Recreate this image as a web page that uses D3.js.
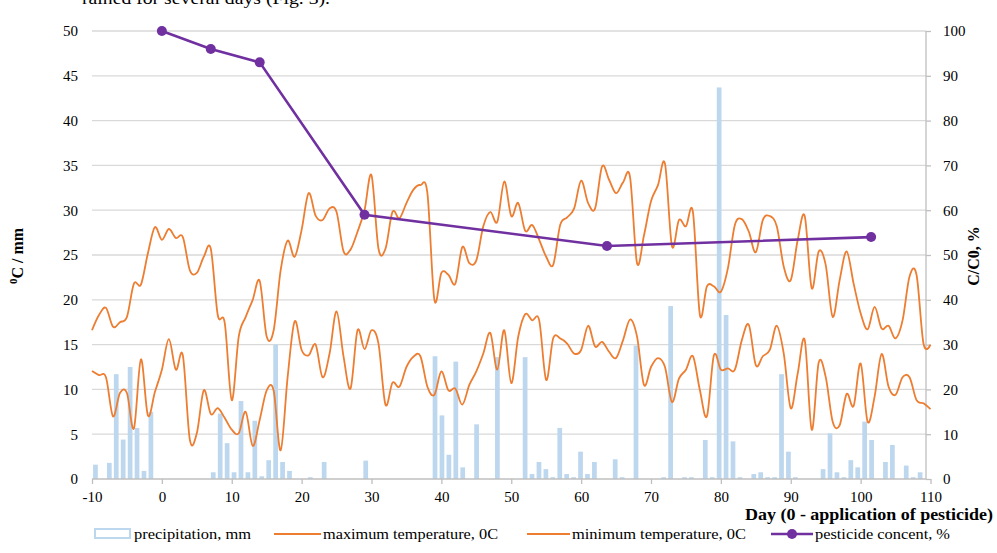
<!DOCTYPE html>
<html>
<head>
<meta charset="utf-8">
<script src="https://cdn.jsdelivr.net/npm/d3@7"></script>
<style>
  body { margin: 0; background: #fff; }
  svg { display: block; font-family: "Liberation Serif", "Times New Roman", serif; }
</style>
</head>
<body>
<svg id="chart" width="997" height="553"></svg>
<script>
// day -10 .. 110, one value per day
var firstDay = -10;
var tMax = [16.6, 18.3, 19.1, 17.0, 17.5, 18.1, 21.8, 21.7, 25.2, 28.1,
    26.7, 27.9, 26.9, 27.0, 23.3, 23.0, 24.8, 25.7, 18.3, 17.4,
    8.8, 15.9, 18.1, 20.0, 22.1, 15.9, 16.6, 23.3, 26.6, 24.8,
    27.8, 31.9, 29.4, 28.9, 30.2, 29.8, 25.4, 25.6, 27.6, 30.0,
    33.9, 25.7, 25.7, 29.8, 29.1, 30.8, 32.3, 32.8, 31.9, 20.0,
    23.0, 22.8, 21.8, 25.9, 24.1, 24.4, 28.2, 29.8, 28.7, 33.2,
    29.35, 30.8, 27.7, 28.35, 26.7, 24.8, 23.9, 28.35, 29.2, 30.2,
    33.3, 30.8, 30.2, 34.9, 33.4, 31.9, 33.1, 33.7, 24.1, 27.2,
    31.0, 32.8, 35.2, 26.0, 28.9, 28.2, 29.8, 18.3, 21.5, 21.5,
    20.9, 23.5, 28.35, 29.0, 27.6, 25.3, 28.9, 29.35, 28.2, 23.7,
    22.2, 26.7, 29.35, 21.3, 25.4, 23.9, 18.1, 22.2, 25.4, 21.8,
    18.5, 16.7, 19.2, 16.8, 17.1, 15.7, 17.7, 22.6, 22.8, 15.1,
    15.0];
var tMin = [12.05, 11.6, 11.35, 7.0, 9.6, 9.6, 5.65, 13.35, 7.1, 9.7,
    12.2, 15.6, 12.2, 13.8, 4.4, 5.1, 9.9, 7.25, 7.9, 6.8,
    5.5, 5.1, 7.5, 3.7, 6.6, 9.9, 9.85, 3.2, 11.4, 17.6,
    14.4, 13.8, 15.0, 11.35, 14.0, 18.7, 13.65, 10.1, 16.6, 14.5,
    16.6, 15.1, 8.3, 10.75, 10.3, 12.5, 13.65, 13.7, 10.3, 9.4,
    12.0, 9.9, 10.1, 8.3, 10.5, 12.0, 14.0, 16.3, 12.2, 16.6,
    10.7, 15.9, 18.4, 17.7, 17.7, 11.05, 15.7, 15.7, 15.1, 14.0,
    14.4, 17.1, 14.8, 15.3, 14.2, 13.5, 15.5, 17.8, 15.9, 10.5,
    12.5, 13.5, 12.5, 8.6, 11.2, 12.2, 13.7, 9.9, 7.0, 13.8,
    12.2, 12.35, 12.2, 15.5, 17.2, 12.7, 13.7, 14.4, 17.1, 14.0,
    7.9, 11.8, 15.5, 5.5, 13.0, 11.4, 6.4, 6.0, 9.5, 8.15,
    12.9, 6.4, 9.2, 13.95, 10.3, 9.4, 11.35, 11.35, 8.8, 8.45,
    7.8];

// precipitation, days with rain only
var rainDays = [-10, -8, -7, -6, -5, -4, -3, -2, 7, 8, 9, 10, 11, 12, 13, 14, 15, 16, 17, 18,
    21, 23, 29, 39, 40, 41, 42, 43, 45, 48, 52, 53, 54, 55, 56, 57, 58, 59, 60, 61, 62,
    65, 66, 68, 72, 73, 75, 76, 78, 79, 80, 81, 82, 83, 85, 86, 87, 88, 89, 90, 91,
    95, 96, 97, 98, 99, 100, 101, 102, 104, 105, 107, 108, 109];
var rainMm = [1.6, 1.8, 11.7, 4.4, 12.5, 5.7, 0.9, 7.5, 0.75, 7.3, 4.0, 0.75, 8.7, 0.75, 6.5, 0.3, 2.1, 15.0, 1.9, 0.9,
    0.2, 1.9, 2.05, 13.7, 7.1, 2.7, 13.1, 1.3, 6.1, 13.6, 13.6, 0.55, 1.9, 1.1, 0.2, 5.7, 0.55, 0.2, 3.05, 0.55, 1.9,
    2.2, 0.2, 14.9, 0.2, 19.3, 0.2, 0.2, 4.35, 0.2, 43.7, 18.3, 4.2, 0.2, 0.55, 0.75, 0.2, 0.2, 11.7, 3.05, 0.2,
    1.1, 5.1, 0.75, 0.2, 2.1, 1.3, 6.4, 4.35, 1.9, 3.8, 1.5, 0.2, 0.75];

// pesticide remaining, % of C0
var pestDays = [0, 7, 14, 29, 63.7, 101.5];
var pestPct = [100, 96, 93, 59, 52, 54];

var xTicks = [-10, 0, 10, 20, 30, 40, 50, 60, 70, 80, 90, 100, 110];
var leftTicks = [0, 5, 10, 15, 20, 25, 30, 35, 40, 45, 50];
var rightTicks = [0, 10, 20, 30, 40, 50, 60, 70, 80, 90, 100];

var svg = d3.select("#chart");
var x0 = 92, x1 = 930.5, yTop = 31, yBot = 479, rightAxisX = 926;

var x = d3.scaleLinear().domain([-10, 110]).range([x0, x1]);
var cat = d3.scaleBand().domain(d3.range(-10, 111)).range([x0, x1]).paddingInner(0.32).paddingOuter(0.16);
var yL = d3.scaleLinear().domain([0, 50]).range([yBot, yTop]);
var yR = d3.scaleLinear().domain([0, 100]).range([yBot, yTop]);

// document text cut off above the chart
svg.append("text")
    .attr("x", 82).attr("y", 4)
    .attr("textLength", 248).attr("lengthAdjust", "spacingAndGlyphs")
    .style("font-size", "17px")
    .text("rained for several days (Fig. 3).");

// gridlines
svg.append("g")
    .selectAll("line")
    .data(leftTicks.slice(1))
    .join("line")
    .attr("x1", x0).attr("x2", rightAxisX)
    .attr("y1", d => yL(d)).attr("y2", d => yL(d))
    .attr("stroke", "#d9d9d9").attr("stroke-width", 1.3);

// bars
svg.append("g")
    .selectAll("rect")
    .data(rainDays.map((d, i) => ({day: d, v: rainMm[i]})))
    .join("rect")
    .attr("x", d => cat(d.day))
    .attr("width", cat.bandwidth())
    .attr("y", d => yL(d.v))
    .attr("height", d => yBot - yL(d.v))
    .attr("fill", "#bdd7ee");

// axes lines
svg.append("line").attr("x1", x0).attr("x2", rightAxisX).attr("y1", yBot).attr("y2", yBot)
    .attr("stroke", "#bfbfbf").attr("stroke-width", 1.3);
svg.append("line").attr("x1", rightAxisX).attr("x2", rightAxisX).attr("y1", yTop).attr("y2", yBot)
    .attr("stroke", "#bfbfbf").attr("stroke-width", 1.3);

function styleAxis(g) {
    g.attr("font-family", null).attr("font-size", null);
    g.select(".domain").remove();
    g.selectAll(".tick line").attr("stroke", "#bfbfbf").attr("stroke-width", 1.3);
    g.selectAll("text").style("font-size", "15px").attr("fill", "#000");
}

var fmt = d => String(d);

svg.append("g").attr("transform", `translate(0,${yBot})`)
    .call(d3.axisBottom(x).tickValues(xTicks).tickFormat(fmt).tickSize(5).tickPadding(7))
    .call(styleAxis);

svg.append("g").attr("transform", `translate(${x0},0)`)
    .call(d3.axisLeft(yL).tickValues(leftTicks).tickFormat(fmt).tickSize(0).tickPadding(14))
    .call(styleAxis);

svg.append("g").attr("transform", `translate(${rightAxisX},0)`)
    .call(d3.axisRight(yR).tickValues(rightTicks).tickFormat(fmt).tickSize(5).tickPadding(12))
    .call(styleAxis);

// temperature lines
var tLine = d3.line()
    .x((d, i) => x(firstDay + i))
    .y(d => yL(d))
    .curve(d3.curveCardinal.tension(0));

svg.append("path").datum(tMax).attr("d", tLine)
    .attr("fill", "none").attr("stroke", "#ed7d31").attr("stroke-width", 1.8);
svg.append("path").datum(tMin).attr("d", tLine)
    .attr("fill", "none").attr("stroke", "#ed7d31").attr("stroke-width", 1.8);

// pesticide
var pest = pestDays.map((d, i) => ({day: d, v: pestPct[i]}));
svg.append("path").datum(pest)
    .attr("d", d3.line().x(d => x(d.day)).y(d => yR(d.v)))
    .attr("fill", "none").attr("stroke", "#7030a0").attr("stroke-width", 2.6);
svg.append("g").selectAll("circle").data(pest).join("circle")
    .attr("cx", d => x(d.day)).attr("cy", d => yR(d.v)).attr("r", 5)
    .attr("fill", "#7030a0");

// axis titles
svg.append("text")
    .attr("transform", "translate(23,256) rotate(-90)")
    .attr("text-anchor", "middle")
    .style("font-size", "16px").style("font-weight", "bold")
    .html('<tspan dy="-6" style="font-size:11px">0</tspan><tspan dy="6">C / mm</tspan>');

svg.append("text")
    .attr("transform", "translate(979,256) rotate(-90)")
    .attr("text-anchor", "middle")
    .style("font-size", "16px").style("font-weight", "bold")
    .text("C/C0, %");

svg.append("text")
    .attr("x", 993).attr("y", 520)
    .attr("text-anchor", "end")
    .attr("textLength", 248).attr("lengthAdjust", "spacingAndGlyphs")
    .style("font-size", "16px").style("font-weight", "bold")
    .text("Day (0 - application of pesticide)");

// legend
var ly = 534;
var leg = svg.append("g").style("font-size", "15px");
function legText(xp, w, s) {
    leg.append("text").attr("x", xp).attr("y", ly + 5)
        .attr("textLength", w).attr("lengthAdjust", "spacingAndGlyphs").text(s);
}
leg.append("rect").attr("x", 95).attr("y", ly - 5).attr("width", 35).attr("height", 9)
    .attr("fill", "#fff").attr("stroke", "#bdd7ee").attr("stroke-width", 2);
legText(134, 117, "precipitation, mm");

leg.append("line").attr("x1", 274).attr("x2", 321).attr("y1", ly).attr("y2", ly)
    .attr("stroke", "#ed7d31").attr("stroke-width", 2);
legText(323, 175, "maximum temperature, 0C");

leg.append("line").attr("x1", 527).attr("x2", 570).attr("y1", ly).attr("y2", ly)
    .attr("stroke", "#ed7d31").attr("stroke-width", 2);
legText(572, 174, "minimum temperature, 0C");

leg.append("line").attr("x1", 771).attr("x2", 813).attr("y1", ly).attr("y2", ly)
    .attr("stroke", "#7030a0").attr("stroke-width", 2.6);
leg.append("circle").attr("cx", 792).attr("cy", ly).attr("r", 5).attr("fill", "#7030a0");
legText(815, 135, "pesticide concent, %");
</script>
</body>
</html>
